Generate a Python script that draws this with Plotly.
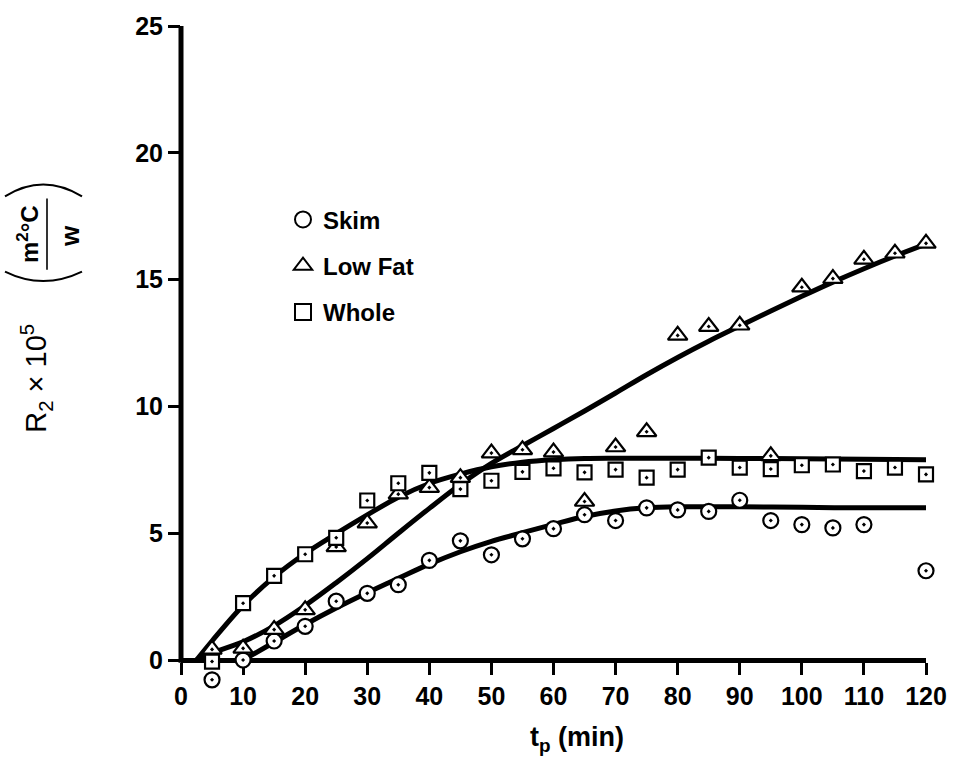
import plotly.graph_objects as go

# ---- data ----
skim_x = [5, 10, 15, 20, 25, 30, 35, 40, 45, 50, 55, 60, 65, 70, 75, 80, 85, 90, 95, 100, 105, 110, 120]
skim_y = [-0.78, 0.0, 0.75, 1.33, 2.32, 2.63, 2.97, 3.93, 4.70, 4.15, 4.78, 5.18, 5.73, 5.50, 6.00, 5.92,
          5.86, 6.30, 5.50, 5.34, 5.21, 5.34, 3.52]

lowfat_x = [5, 10, 15, 20, 25, 30, 35, 40, 45, 50, 55, 60, 65, 70, 75, 80, 85, 90, 95, 100, 105, 110, 115, 120]
lowfat_y = [0.42, 0.46, 1.20, 1.98, 4.46, 5.40, 6.54, 6.80, 7.19, 8.16, 8.29, 8.20, 6.25, 8.40, 9.00, 12.80,
            13.15, 13.20, 8.05, 14.70, 15.04, 15.80, 16.04, 16.43]

whole_x = [5, 10, 15, 20, 25, 30, 35, 40, 45, 50, 55, 60, 65, 70, 75, 80, 85, 90, 95, 100, 105, 110, 115, 120]
whole_y = [-0.06, 2.24, 3.32, 4.17, 4.82, 6.29, 6.97, 7.38, 6.74, 7.07, 7.42, 7.56, 7.40, 7.51, 7.19, 7.51,
           7.98, 7.59, 7.53, 7.68, 7.71, 7.45, 7.59, 7.32]

# fitted curves
skim_fit_x = [10, 15, 20, 25, 30, 35, 40, 45, 50, 55, 60, 65, 70, 75, 80, 90, 100, 110, 120]
skim_fit_y = [0.0, 0.70, 1.40, 2.05, 2.65, 3.22, 3.78, 4.27, 4.68, 5.02, 5.35, 5.66, 5.88, 6.00, 6.04,
              6.04, 6.02, 6.00, 6.00]

whole_fit_x = [2.5, 5, 10, 15, 20, 25, 30, 35, 40, 45, 50, 55, 60, 65, 70, 80, 90, 100, 110, 120]
whole_fit_y = [0.0, 0.75, 2.15, 3.28, 4.20, 4.98, 5.72, 6.42, 6.96, 7.33, 7.62, 7.80, 7.90, 7.95, 7.96,
               7.96, 7.95, 7.94, 7.92, 7.90]

lowfat_fit_x = [2.5, 5, 10, 15, 20, 25, 30, 35, 40, 45, 50, 55, 60, 65, 70, 75, 80, 85, 90, 95, 100,
                105, 110, 115, 120]
lowfat_fit_y = [0.0, 0.28, 0.72, 1.35, 2.15, 3.05, 4.00, 5.00, 5.98, 6.92, 7.75, 8.45, 9.13, 9.82, 10.53,
                11.25, 11.93, 12.57, 13.17, 13.76, 14.34, 14.90, 15.43, 15.93, 16.40]

x_ticks = [0, 10, 20, 30, 40, 50, 60, 70, 80, 90, 100, 110, 120]
y_ticks = [0, 5, 10, 15, 20, 25]

series_names = ["Skim", "Low Fat", "Whole"]

# ---- figure geometry ----
FONT = "Liberation Sans, Arial, Helvetica, sans-serif"
W, H = 959, 765
X0_PX, X1_PX = 181, 926          # pixel positions of x=0 and x=120
Y0_PX, Y25_PX = 660, 20          # pixel positions of y=0 and y=25
Y_MIN = -1.3                     # extra room below 0 so low points are drawn
PX_PER_Y = (Y0_PX - Y25_PX) / 25.0
BOT_PX = Y0_PX - Y_MIN * PX_PER_Y
L, R, T, B = X0_PX, W - X1_PX, Y25_PX, H - BOT_PX
PW, PH = W - L - R, H - T - B


def px2paper(px, py):
    return (px - L) / PW, (H - B - py) / PH


zero_frac = (0 - Y_MIN) / (25 - Y_MIN)

fig = go.Figure()

line_style = dict(color="black", width=5, shape="spline", smoothing=1.0)
for fx, fy in [(skim_fit_x, skim_fit_y), (whole_fit_x, whole_fit_y), (lowfat_fit_x, lowfat_fit_y)]:
    fig.add_trace(go.Scatter(x=fx, y=fy, mode="lines", line=line_style,
                             showlegend=False, hoverinfo="skip", cliponaxis=False))

marker_specs = [
    (skim_x, skim_y, "circle-dot", 15),
    (lowfat_x, lowfat_y, "triangle-up-dot", 17),
    (whole_x, whole_y, "square-dot", 14),
]
for (mx, my, sym, sz) in marker_specs:
    fig.add_trace(go.Scatter(x=mx, y=my, mode="markers",
                             marker=dict(symbol=sym, size=sz, color="white",
                                         line=dict(color="black", width=2.2)),
                             showlegend=False, cliponaxis=False))

# legend-only traces
legend_syms = ["circle-open", "triangle-up-open", "square-open"]
for name, sym in zip(series_names, legend_syms):
    fig.add_trace(go.Scatter(x=[None], y=[None], mode="markers", name=name,
                             legendgroup=name,
                             marker=dict(symbol=sym, size=16, color="black",
                                         line=dict(color="black", width=2))))

tick_common = dict(
    ticks="outside", ticklen=12, tickwidth=3, tickcolor="black",
    showgrid=False, zeroline=False, layer="below traces",
    tickfont=dict(family=FONT, size=25, color="black", weight="bold"),
)

fig.update_xaxes(range=[0, 120], tickvals=x_ticks, ticktext=[str(v) for v in x_ticks],
                 showline=True, linecolor="black", linewidth=5,
                 anchor="free", position=zero_frac, **tick_common)
fig.update_yaxes(range=[Y_MIN, 25], tickvals=y_ticks, ticktext=[str(v) for v in y_ticks],
                 showline=False, **tick_common)

annotations = []
ax, ay = px2paper(577, 740)
annotations.append(dict(x=ax, y=ay, xref="paper", yref="paper", showarrow=False,
                        text="t<sub>p</sub> (min)", xanchor="center", yanchor="middle",
                        font=dict(family=FONT, size=27, color="black", weight="bold")))
ax, ay = px2paper(36, 376)
annotations.append(dict(x=ax, y=ay, xref="paper", yref="paper", showarrow=False, textangle=-90,
                        text="R<sub>2</sub>\u00a0×\u00a010<sup>5</sup>", xanchor="center", yanchor="middle",
                        font=dict(family=FONT, size=29, color="black")))
ax, ay = px2paper(28, 230)
annotations.append(dict(x=ax, y=ay, xref="paper", yref="paper", showarrow=False, textangle=-90,
                        text="m<sup>2</sup>°C", xanchor="center", yanchor="middle",
                        font=dict(family=FONT, size=24, color="black", weight="bold")))
ax, ay = px2paper(70, 232)
annotations.append(dict(x=ax, y=ay, xref="paper", yref="paper", showarrow=False, textangle=-90,
                        text="w", xanchor="center", yanchor="middle",
                        font=dict(family=FONT, size=26, color="black", weight="bold")))

shapes = []
# y axis line from 0 to 25
shapes.append(dict(type="line", xref="paper", yref="paper", x0=0, x1=0, y0=zero_frac - 0.004, y1=1,
                   line=dict(color="black", width=5), layer="below"))
bx0, by0 = px2paper(47, 194)
bx1, by1 = px2paper(47, 266)
shapes.append(dict(type="line", xref="paper", yref="paper", x0=bx0, y0=by0, x1=bx1, y1=by1,
                   line=dict(color="black", width=1.6)))


def arc(p0, c, p1):
    a = px2paper(*p0)
    b = px2paper(*c)
    d = px2paper(*p1)
    return f"M {a[0]},{a[1]} Q {b[0]},{b[1]} {d[0]},{d[1]}"


shapes.append(dict(type="path", xref="paper", yref="paper", path=arc((5, 192), (43, 168), (82, 192)),
                   line=dict(color="black", width=2)))
shapes.append(dict(type="path", xref="paper", yref="paper", path=arc((5, 268), (43, 287), (82, 268)),
                   line=dict(color="black", width=2)))

lx, ly = px2paper(283, 193)
fig.update_layout(
    width=W, height=H,
    margin=dict(l=L, r=R, t=T, b=B, pad=0),
    paper_bgcolor="white", plot_bgcolor="white",
    font=dict(family=FONT, color="black"),
    showlegend=True,
    legend=dict(x=lx, y=ly, xanchor="left", yanchor="top", bgcolor="rgba(0,0,0,0)",
                font=dict(family=FONT, size=24, color="black", weight="bold"),
                traceorder="grouped", tracegroupgap=12, itemwidth=30),
    annotations=annotations,
    shapes=shapes,
)

fig.write_html("out.html")
